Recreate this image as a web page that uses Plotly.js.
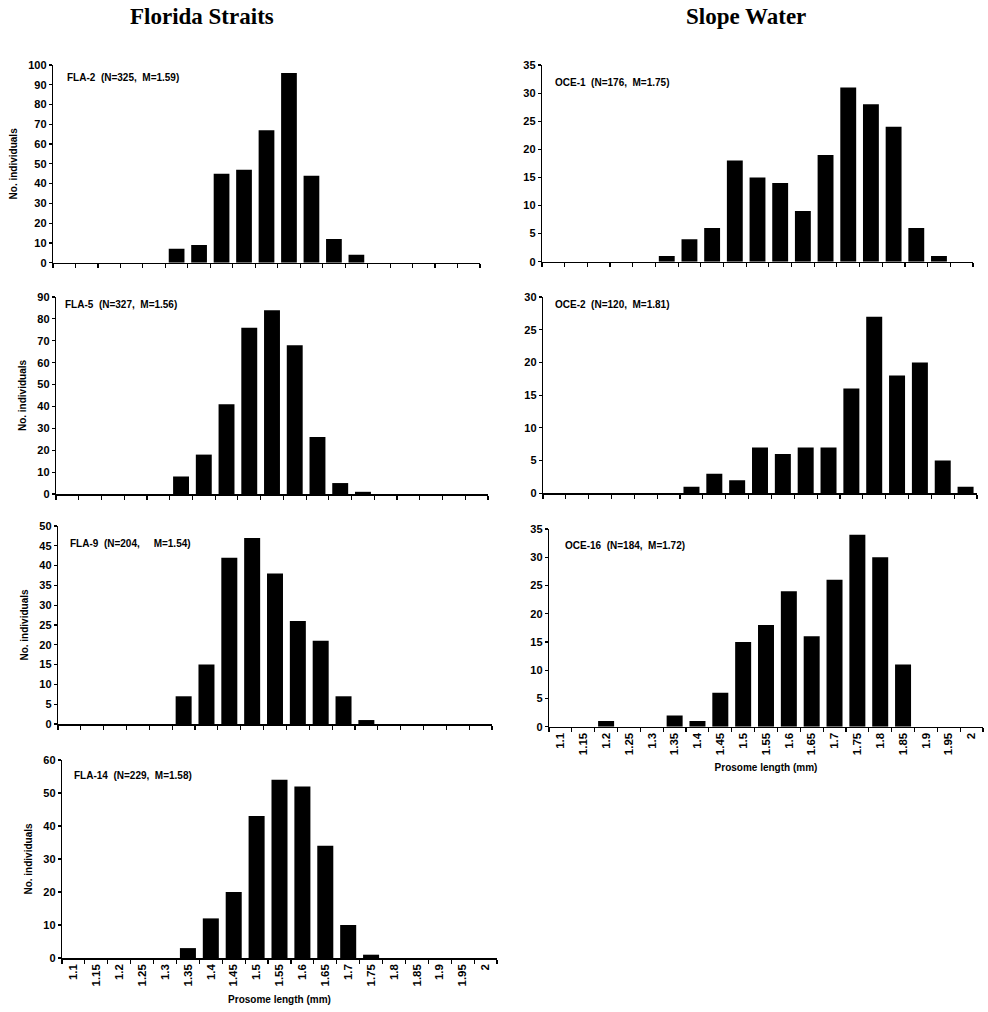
<!DOCTYPE html>
<html><head><meta charset="utf-8">
<script src="https://cdn.plot.ly/plotly-3.0.1.min.js"></script>
<style>html,body{margin:0;padding:0;background:#fff}</style>
</head><body><div id="chart" style="width:988px;height:1012px"></div>
<script>
// ---- data ----
const categories = ['1.1','1.15','1.2','1.25','1.3','1.35','1.4','1.45','1.5','1.55','1.6','1.65','1.7','1.75','1.8','1.85','1.9','1.95','2'];
const fla2  = [0,0,0,0,0,7,9,45,47,67,96,44,12,4,0,0,0,0,0];
const fla5  = [0,0,0,0,0,8,18,41,76,84,68,26,5,1,0,0,0,0,0];
const fla9  = [0,0,0,0,0,7,15,42,47,38,26,21,7,1,0,0,0,0,0];
const fla14 = [0,0,0,0,0,3,12,20,43,54,52,34,10,1,0,0,0,0,0];
const oce1  = [0,0,0,0,0,1,4,6,18,15,14,9,19,31,28,24,6,1,0];
const oce2  = [0,0,0,0,0,0,1,3,2,7,6,7,7,16,27,18,20,5,1];
const oce16 = [0,0,1,0,0,2,1,6,15,18,24,16,26,34,30,11,0,0,0];
const panelLabels = [
  'FLA-2\u00a0\u00a0(N=325,\u00a0\u00a0M=1.59)',
  'OCE-1\u00a0\u00a0(N=176,\u00a0\u00a0M=1.75)',
  'FLA-5\u00a0\u00a0(N=327,\u00a0\u00a0M=1.56)',
  'OCE-2\u00a0\u00a0(N=120,\u00a0\u00a0M=1.81)',
  'FLA-9\u00a0\u00a0(N=204,\u00a0\u00a0\u00a0\u00a0\u00a0M=1.54)',
  'OCE-16\u00a0\u00a0(N=184,\u00a0\u00a0M=1.72)',
  'FLA-14\u00a0\u00a0(N=229,\u00a0\u00a0M=1.58)'
];
const columnTitles = ['Florida Straits','Slope Water'];
const yTitle = 'No. individuals';
const xTitle = 'Prosome length (mm)';

// ---- layout config ----
const W = 988, H = 1012;
const panels = [
  {data:fla2,  box:[53,480,65,262.7],   ymax:100, dtick:10, ytitle:true,  xlab:false, lo:[12,12]},
  {data:oce1,  box:[542,973,65,261.7],  ymax:35,  dtick:5,  ytitle:false, xlab:false, lo:[11,18]},
  {data:fla5,  box:[56,488,297,494],    ymax:90,  dtick:10, ytitle:true,  xlab:false, lo:[7,8]},
  {data:oce2,  box:[543,977,297,493.3], ymax:30,  dtick:5,  ytitle:false, xlab:false, lo:[10,8]},
  {data:fla9,  box:[58,492,526,724],    ymax:50,  dtick:5,  ytitle:true,  xlab:false, lo:[10,17]},
  {data:oce16, box:[549,983,529,726.7], ymax:35,  dtick:5,  ytitle:false, xlab:true,  lo:[14,16]},
  {data:fla14, box:[62,497,760,958],    ymax:60,  dtick:10, ytitle:true,  xlab:true,  lo:[10,15]}
];

const fam = 'Liberation Sans, Arial, sans-serif';
const traces = [];
const layout = {
  width: W, height: H,
  margin: {l:0, r:0, t:0, b:0},
  paper_bgcolor: '#fff', plot_bgcolor: '#fff',
  showlegend: false,
  bargap: 0.3,
  annotations: []
};

panels.forEach((p, i) => {
  const n = i + 1;
  const xa = n === 1 ? 'x' : 'x' + n;
  const ya = n === 1 ? 'y' : 'y' + n;
  const xk = n === 1 ? 'xaxis' : 'xaxis' + n;
  const yk = n === 1 ? 'yaxis' : 'yaxis' + n;
  const [l, r, t, b] = p.box;
  traces.push({
    type: 'bar', x: categories, y: p.data, xaxis: xa, yaxis: ya,
    marker: {color: '#000', line: {width: 0}}, hoverinfo: 'x+y'
  });
  layout[xk] = {
    domain: [l / W, r / W], anchor: ya, type: 'category',
    tickson: 'boundaries', ticks: 'outside', ticklen: 4, tickwidth: 1.2, tickcolor: '#000',
    showline: true, linecolor: '#000', linewidth: 1.5,
    showgrid: false, zeroline: false,
    showticklabels: p.xlab, tickangle: -90,
    tickfont: {family: fam, size: 11.5, color: '#000', weight: 'bold'},
    title: p.xlab ? {text: xTitle, font: {family: fam, size: 10, color: '#000', weight: 'bold'}, standoff: 10} : {text: ''}
  };
  layout[yk] = {
    domain: [1 - b / H, 1 - t / H], anchor: xa,
    range: [0, p.ymax], dtick: p.dtick, tick0: 0,
    ticks: 'outside', ticklen: 3, tickwidth: 1.2, tickcolor: '#000',
    showline: true, linecolor: '#000', linewidth: 1.2,
    showgrid: false, zeroline: false,
    tickfont: {family: fam, size: 11, color: '#000', weight: 'bold'},
    title: p.ytitle ? {text: yTitle, font: {family: fam, size: 10, color: '#000', weight: 'bold'}, standoff: 8} : {text: ''}
  };
  layout.annotations.push({
    text: panelLabels[i], xref: 'paper', yref: 'paper',
    x: (l + p.lo[0]) / W, y: 1 - (t + p.lo[1]) / H,
    xanchor: 'left', yanchor: 'middle', showarrow: false,
    font: {family: fam, size: 10, color: '#000', weight: 'bold'}
  });
});

columnTitles.forEach((txt, k) => {
  layout.annotations.push({
    text: txt, xref: 'paper', yref: 'paper', x: (k === 0 ? 202 : 746) / W, y: 1 - 16 / H,
    xanchor: 'center', yanchor: 'middle', showarrow: false,
    font: {family: 'Liberation Serif, Times New Roman, serif', size: 23, color: '#000', weight: 'bold'}
  });
});

Plotly.newPlot('chart', traces, layout, {staticPlot: true, displayModeBar: false});
</script>
</body></html>
